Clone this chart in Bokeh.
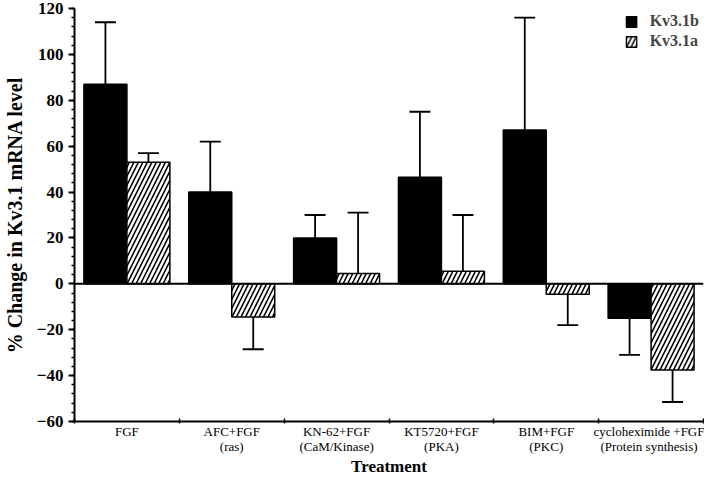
import numpy as np
from bokeh.plotting import figure
from bokeh.models import (ColumnDataSource, FixedTicker, SingleIntervalTicker,
                          Span, Legend, LegendItem, Range1d)
from bokeh.embed import file_html
from bokeh.resources import INLINE

treatments_line1 = ["FGF", "AFC+FGF", "KN-62+FGF", "KT5720+FGF", "BIM+FGF", "cycloheximide +FGF"]
treatments_line2 = ["", "(ras)", "(CaM/Kinase)", "(PKA)", "(PKC)", "(Protein synthesis)"]
kv31b = [87, 40, 20, 46.5, 67, -15]
kv31b_err = [27, 22, 10, 28.5, 49, 16]
kv31a = [53, -14.5, 4.5, 5.5, -4.5, -37.5]
kv31a_err = [4, 14, 26.5, 24.5, 13.5, 14]
y_ticks = [-60, -40, -20, 0, 20, 40, 60, 80, 100, 120]

FONT = "Liberation Serif"
n = len(kv31b)
xc = np.arange(n) + 0.5
bw = 0.41
cap = 0.1

def err_src(vals, errs, off):
    v = np.array(vals, dtype=float)
    e = np.array(errs, dtype=float)
    tip = v + np.sign(v) * e
    x = xc + off
    return ColumnDataSource(dict(x=x, v=v, tip=tip, xl=x - cap, xr=x + cap))

src_b = err_src(kv31b, kv31b_err, -bw / 2)
src_a = err_src(kv31a, kv31a_err, bw / 2)

p = figure(width=704, height=479, output_backend="svg", toolbar_location=None,
           x_range=Range1d(0, n), y_range=Range1d(y_ticks[0], y_ticks[-1]),
           min_border_left=62, min_border_right=1, min_border_top=8, min_border_bottom=0)
p.outline_line_color = None
p.grid.grid_line_color = None
p.background_fill_color = "white"

rb = p.vbar(x="x", top="v", bottom=0, width=bw, source=src_b,
            fill_color="black", line_color="black", line_width=1.5)
ra = p.vbar(x="x", top="v", bottom=0, width=bw, source=src_a,
            fill_color="white", line_color="black", line_width=1.5,
            hatch_pattern="/", hatch_color="black", hatch_scale=9, hatch_weight=1.6)

p.add_layout(Span(location=0, dimension="width", line_color="black", line_width=2))

for s in (src_b, src_a):
    p.segment(x0="x", y0="v", x1="x", y1="tip", source=s, line_color="black", line_width=1.8)
    p.segment(x0="xl", y0="tip", x1="xr", y1="tip", source=s, line_color="black", line_width=1.8)

# y axis
ya = p.yaxis[0]
ya.ticker = SingleIntervalTicker(interval=20, num_minor_ticks=5)
ya.axis_line_width = 2
ya.major_tick_line_width = 2
ya.minor_tick_line_width = 1.5
ya.major_tick_out = 6
ya.major_tick_in = 0
ya.minor_tick_out = 3
ya.minor_tick_in = 0
ya.major_label_text_font = FONT
ya.major_label_text_font_style = "bold"
ya.major_label_text_font_size = "17px"
ya.major_label_text_color = "black"
ya.major_label_standoff = 5
ya.axis_label = "% Change in Kv3.1 mRNA level"
ya.axis_label_text_font = FONT
ya.axis_label_text_font_style = "bold"
ya.axis_label_text_font_size = "20px"
ya.axis_label_text_color = "black"
ya.axis_label_standoff = 8

# x axis: labels at centers, tick marks at category boundaries
labels = {float(x): t1 + "\n" + (t2 if t2 else " ")
          for x, t1, t2 in zip(xc, treatments_line1, treatments_line2)}
xa = p.xaxis[0]
xa.ticker = FixedTicker(ticks=list(xc), minor_ticks=list(range(n + 1)))
xa.major_label_overrides = labels
xa.axis_line_width = 2
xa.major_tick_line_color = None
xa.major_tick_out = 0
xa.major_tick_in = 0
xa.minor_tick_line_color = "black"
xa.minor_tick_line_width = 1.5
xa.minor_tick_in = 3
xa.minor_tick_out = 2
xa.major_label_text_font = FONT
xa.major_label_text_font_size = "13px"
xa.major_label_text_color = "black"
xa.major_label_text_line_height = 1.05
xa.major_label_standoff = 0
xa.axis_label = "Treatment"
xa.axis_label_text_font = FONT
xa.axis_label_text_font_style = "bold"
xa.axis_label_text_font_size = "17px"
xa.axis_label_text_color = "black"
xa.axis_label_text_line_height = 1.0
xa.axis_label_standoff = 0

legend = Legend(items=[LegendItem(label="Kv3.1b", renderers=[rb]),
                       LegendItem(label="Kv3.1a", renderers=[ra])],
                location="top_right", border_line_color=None, background_fill_alpha=0,
                label_text_font=FONT, label_text_font_style="bold", label_text_font_size="16px",
                glyph_width=13, glyph_height=13, label_standoff=12, spacing=2, padding=0,
                margin=4, label_height=16)
p.add_layout(legend)

open("out.html", "w").write(file_html(p, INLINE))
